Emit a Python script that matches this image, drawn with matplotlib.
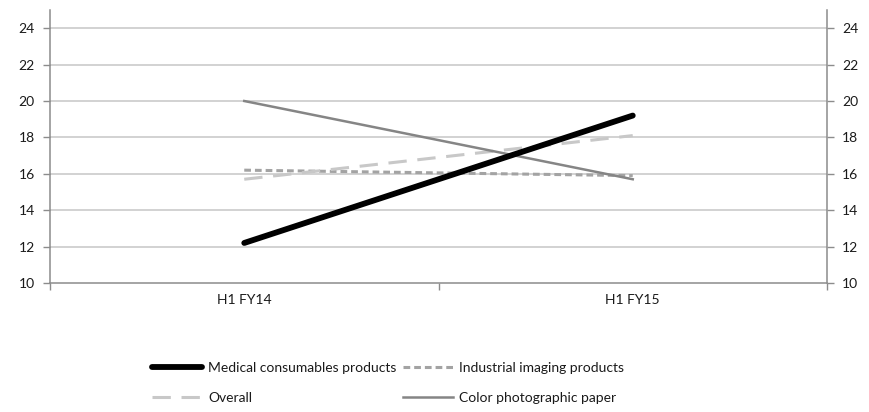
import matplotlib
matplotlib.use("Agg")
import matplotlib.pyplot as plt
from matplotlib.ticker import FixedLocator

plt.rcParams['font.family'] = ['Lato', 'DejaVu Sans']

categories = ["H1 FY14", "H1 FY15"]
medical = [12.2, 19.2]
industrial = [16.2, 15.9]
overall = [15.7, 18.1]
color_paper = [20.0, 15.7]
y_ticks = [10, 12, 14, 16, 18, 20, 22, 24]

W, H = 869, 412
fig = plt.figure(figsize=(W / 100, H / 100), dpi=100)
ax = fig.add_axes([50 / W, 1 - 283 / H, (827 - 50) / W, (283 - 10) / H])

x = list(range(len(categories)))
grid_c = "#c6c6c6"
spine_c = "#8c8c8c"
text_c = "#1a1a1a"

for yv in y_ticks[1:]:
    ax.axhline(yv, color=grid_c, lw=1.1, zorder=1)

h_med, = ax.plot(x, medical, color="#000000", lw=4.2, solid_capstyle="round",
                 label="Medical consumables products", zorder=5)
h_ind, = ax.plot(x, industrial, color="#a3a3a3", lw=2.2, dashes=(2.2, 1.3),
                 label="Industrial imaging products", zorder=3)
h_all, = ax.plot(x, overall, color="#c8c8c8", lw=2.2, dashes=(6, 3.5),
                 label="Overall", zorder=3)
h_col, = ax.plot(x, color_paper, color="#858585", lw=1.8,
                 label="Color photographic paper", zorder=4)

ax.set_xlim(-0.5, len(categories) - 0.5)
ax.set_ylim(10, 25)
ax.set_yticks(y_ticks)
ax.set_xticks(x)
ax.set_xticklabels(categories)
ax.xaxis.set_minor_locator(FixedLocator([-0.5 + i for i in range(len(categories) + 1)]))
ax.tick_params(axis="x", which="major", length=0, labelsize=10, pad=8,
               labelcolor=text_c)
ax.tick_params(axis="x", which="minor", length=5, color=spine_c, width=1)
ax.tick_params(axis="y", which="major", length=5, color=spine_c, width=1,
               labelsize=10, left=True, right=True, labelleft=True,
               labelright=True, pad=6, labelcolor=text_c)

ax.spines["top"].set_visible(False)
for side in ["left", "right", "bottom"]:
    ax.spines[side].set_color(spine_c)
    ax.spines[side].set_linewidth(1.1)

# legend laid out row by row: column-major fill order
handles = [h_med, h_all, h_ind, h_col]
leg = fig.legend(handles, [h.get_label() for h in handles], ncol=2, loc="center",
                 bbox_to_anchor=(388 / W, 1 - 383 / H), frameon=False,
                 fontsize=10, handlelength=3.6, handletextpad=0.45,
                 columnspacing=0.45, labelspacing=1.25)
for t in leg.get_texts():
    t.set_color(text_c)

fig.savefig("out.png", dpi=100, facecolor="white")
